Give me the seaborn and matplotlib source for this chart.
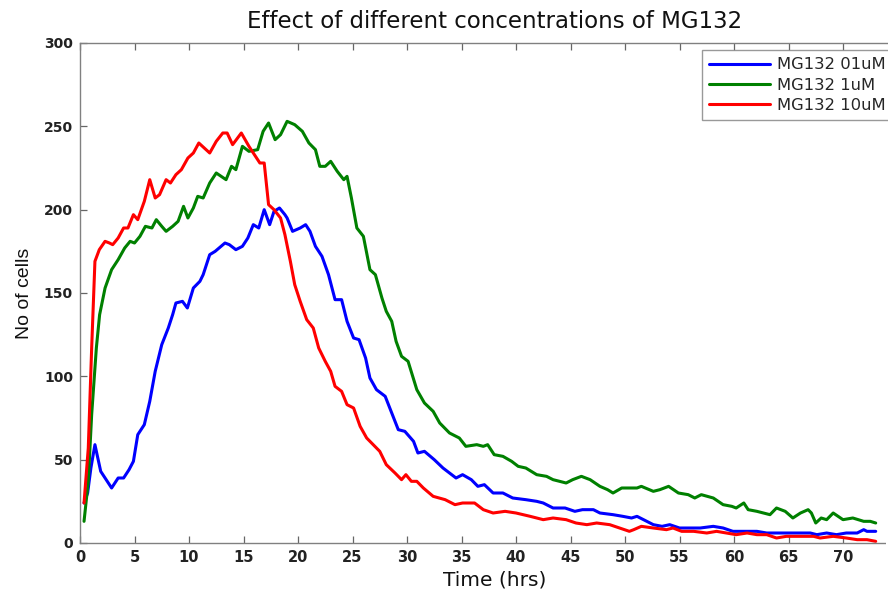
import numpy as np
import pandas as pd
import matplotlib
matplotlib.use("Agg")
import matplotlib.pyplot as plt
import seaborn as sns
from matplotlib.lines import Line2D
from matplotlib.patches import Rectangle

# ---- data ----
labels = ["MG132 01uM", "MG132 1uM", "MG132 10uM"]
colors = ["#0000ff", "#008000", "#ff0000"]

t_blue = [0.37, 0.7, 1.0, 1.37, 1.6, 1.9, 2.4, 2.9, 3.5, 4.0, 4.5, 4.9, 5.3, 5.9, 6.4, 6.9,
          7.5, 8.1, 8.5, 8.8, 9.4, 9.85, 10.4, 11.0, 11.3, 11.9, 12.4, 13.3, 13.7, 14.3, 14.9,
          15.4, 15.9, 16.4, 16.9, 17.4, 17.8, 18.3, 18.8, 19.0, 19.5, 20.2, 20.7, 21.1, 21.6,
          22.2, 22.8, 23.4, 24.0, 24.5, 25.1, 25.6, 26.2, 26.6, 27.2, 28.0, 28.6, 29.2, 29.8,
          30.6, 31.0, 31.6, 32.5, 33.3, 34.5, 35.1, 35.9, 36.5, 37.1, 37.9, 38.8, 39.7, 40.9,
          41.9, 42.5, 43.4, 44.5, 45.4, 46.1, 47.1, 47.7, 48.9, 49.8, 50.6, 51.1, 52.0, 52.6,
          53.4, 54.1, 55.0, 56.0, 56.9, 58.1, 59.0, 59.9, 60.9, 62.1, 63.0, 63.9, 65.1, 66.1,
          67.0, 67.6, 68.5, 69.4, 70.3, 71.3, 71.9, 72.2, 73.0]
y_blue = [24, 30, 45, 59, 52, 43, 38, 33, 39, 39, 44, 49, 65, 71, 85, 103,
          119, 129, 137, 144, 145, 141, 153, 157, 161, 173, 175, 180, 179, 176, 178,
          183, 191, 189, 200, 191, 199, 201, 197, 195, 187, 189, 191, 187, 178,
          172, 161, 146, 146, 133, 123, 122, 111, 99, 92, 88, 78, 68, 67,
          61, 54, 55, 50, 45, 39, 41, 38, 34, 35, 30, 30, 27, 26,
          25, 24, 21, 21, 19, 20, 20, 18, 17, 16, 15, 16, 13, 11,
          10, 11, 9, 9, 9, 10, 9, 7, 7, 7, 6, 6, 6, 6,
          6, 5, 6, 5, 6, 6, 8, 7, 7]

t_green = [0.37, 0.76, 1.07, 1.5, 1.8, 2.3, 2.9, 3.5, 4.1, 4.6, 5.0, 5.5, 6.0, 6.6, 7.0, 7.5,
           7.9, 8.5, 9.0, 9.5, 9.9, 10.4, 10.8, 11.3, 11.9, 12.5, 13.4, 13.9, 14.3, 14.9, 15.5,
           16.3, 16.8, 17.3, 17.9, 18.4, 19.0, 19.7, 20.4, 21.0, 21.6, 22.0, 22.5, 23.0, 23.6,
           24.2, 24.5, 24.9, 25.4, 26.0, 26.6, 27.1, 27.7, 28.1, 28.6, 29.0, 29.5, 30.1, 30.9,
           31.6, 32.4, 33.0, 33.9, 34.8, 35.4, 36.4, 37.0, 37.4, 38.0, 38.8, 39.6, 40.2, 40.9,
           41.9, 42.8, 43.4, 44.0, 44.6, 45.2, 46.0, 46.8, 47.7, 48.4, 48.9, 49.7, 50.5, 51.1,
           51.5, 52.6, 53.2, 54.0, 54.9, 55.8, 56.4, 57.0, 58.1, 59.0, 59.8, 60.2, 60.9, 61.3,
           62.1, 63.3, 63.9, 64.7, 65.4, 66.1, 66.8, 67.1, 67.5, 68.0, 68.5, 69.1, 70.0, 70.9,
           71.9, 72.5, 73.0]
y_green = [13, 37, 77, 117, 137, 153, 164, 170, 177, 181, 180, 184, 190, 189, 194, 190,
           187, 190, 193, 202, 195, 201, 208, 207, 216, 222, 218, 226, 224, 238, 235,
           236, 247, 252, 242, 245, 253, 251, 247, 240, 236, 226, 226, 229, 223,
           218, 220, 207, 189, 184, 164, 161, 147, 139, 133, 121, 112, 109, 92,
           84, 79, 72, 66, 63, 58, 59, 58, 59, 53, 52, 49, 46, 45,
           41, 40, 38, 37, 36, 38, 40, 38, 34, 32, 30, 33, 33, 33,
           34, 31, 32, 34, 30, 29, 27, 29, 27, 23, 22, 21, 24, 20,
           19, 17, 21, 19, 15, 18, 20, 18, 12, 15, 14, 18, 14, 15,
           13, 13, 12]

t_red = [0.37, 0.76, 1.07, 1.37, 1.77, 2.3, 2.7, 3.0, 3.5, 4.0, 4.4, 4.9, 5.3, 5.9, 6.4, 6.9,
         7.3, 7.9, 8.3, 8.8, 9.3, 9.9, 10.4, 10.9, 11.9, 12.5, 13.1, 13.5, 14.0, 14.8, 15.5,
         16.1, 16.5, 16.9, 17.3, 17.8, 18.4, 18.8, 19.3, 19.7, 20.2, 20.8, 21.4, 21.9, 22.5,
         23.0, 23.4, 24.0, 24.5, 25.1, 25.7, 26.3, 26.9, 27.5, 28.1, 28.9, 29.5, 29.9, 30.4,
         30.9, 31.5, 32.4, 33.5, 34.4, 35.1, 36.2, 37.0, 37.9, 39.0, 40.0, 41.3, 42.5, 43.4,
         44.6, 45.5, 46.5, 47.4, 48.6, 49.5, 50.4, 50.8, 51.5, 52.6, 53.8, 54.4, 55.2, 56.3,
         57.5, 58.4, 59.3, 60.2, 61.2, 62.1, 63.0, 63.9, 64.8, 66.1, 67.3, 67.9, 69.1, 70.3,
         71.3, 72.2, 73.0]
y_red = [24, 57, 117, 169, 176, 181, 180, 179, 183, 189, 189, 197, 194, 205, 218, 207,
         209, 218, 216, 221, 224, 231, 234, 240, 234, 241, 246, 246, 239, 246, 238,
         232, 228, 228, 203, 200, 195, 185, 169, 155, 145, 134, 129, 117, 109,
         103, 94, 91, 83, 81, 70, 63, 59, 55, 47, 42, 38, 41, 37,
         37, 33, 28, 26, 23, 24, 24, 20, 18, 19, 18, 16, 14, 15,
         14, 12, 11, 12, 11, 9, 7, 8, 10, 9, 8, 9, 7, 7,
         6, 7, 6, 5, 6, 5, 5, 3, 4, 4, 4, 3, 4, 3,
         2, 2, 1]

x_ticks = list(range(0, 75, 5))
y_ticks = [0, 50, 100, 150, 200, 250, 300]

df = pd.concat([
    pd.DataFrame({"time": t_blue, "cells": y_blue, "series": labels[0]}),
    pd.DataFrame({"time": t_green, "cells": y_green, "series": labels[1]}),
    pd.DataFrame({"time": t_red, "cells": y_red, "series": labels[2]}),
], ignore_index=True)

sns.set_style("white")
plt.rcParams["font.family"] = ["DejaVu Sans"]

fig = plt.figure(figsize=(8.88, 5.92), dpi=100)
# the plot box runs past the right edge of the picture, as in the reference
ax = fig.add_axes([80 / 888, 49 / 592, 830 / 888, 500 / 592])

sns.lineplot(data=df, x="time", y="cells", hue="series", hue_order=labels,
             palette=dict(zip(labels, colors)), estimator=None, sort=False,
             linewidth=2.2, ax=ax, legend=False)

ax.set_xlim(0, 830 / 10.9)
ax.set_ylim(0, 300)
ax.set_xticks(x_ticks)
ax.set_yticks(y_ticks)
ax.set_xticklabels([str(v) for v in x_ticks], fontsize=10.5, fontweight="bold", color="#222222")
ax.set_yticklabels([str(v) for v in y_ticks], fontsize=10, fontweight="bold", color="#222222")
ax.tick_params(direction="in", length=5, width=0.9, color="#666666",
               top=True, right=False, bottom=True, left=True, pad=5)
for side in ["left", "top", "bottom"]:
    ax.spines[side].set_color("#808080")
    ax.spines[side].set_linewidth(1.0)
ax.spines["right"].set_visible(False)

ax.set_xlabel("Time (hrs)", fontsize=14.5, labelpad=4, color="#111111")
ax.set_ylabel("No of cells", fontsize=14, family=["Liberation Sans"], labelpad=8, color="#111111")
ax.set_title("Effect of different concentrations of MG132", fontsize=16.5, pad=11, color="#111111")

# white strip at the very right edge of the picture (the reference shows no frame there)
fig.patches.append(Rectangle((885.5 / 888, 45 / 592), 3 / 888, 500 / 592,
                             transform=fig.transFigure, facecolor="white",
                             edgecolor="none", zorder=4))

handles = [Line2D([], [], color=c, linewidth=2.2) for c in colors]
leg = fig.legend(handles, labels, loc="upper left",
                 bbox_to_anchor=(702 / 888, 1 - 50 / 592), bbox_transform=fig.transFigure,
                 fontsize=11.8, frameon=True, fancybox=False, borderaxespad=0,
                 handlelength=3.7, handletextpad=0.4, labelspacing=0.32, borderpad=0.45)
leg.get_frame().set_edgecolor("#808080")
leg.get_frame().set_linewidth(1.0)
leg.set_zorder(5)

fig.savefig("out.png", dpi=100)
